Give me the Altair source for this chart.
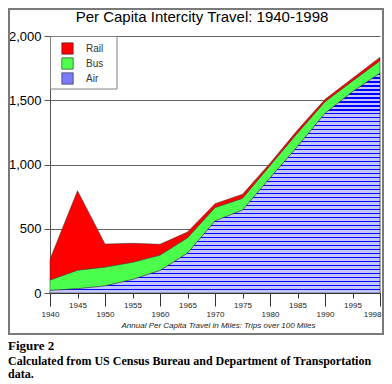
import altair as alt
import pandas as pd

years = [1940, 1945, 1950, 1955, 1960, 1965, 1970, 1975, 1980, 1985, 1990, 1995, 1998]
air = [20, 33, 55, 105, 175, 310, 560, 645, 895, 1140, 1398, 1567, 1710]
bus = [81, 145, 147, 135, 120, 120, 105, 92, 97, 105, 91, 83, 98]
rail = [161, 618, 179, 147, 84, 45, 30, 31, 18, 23, 18, 21, 26]
modes = ["Rail", "Bus", "Air"]
y_ticks = [0, 500, 1000, 1500, 2000]

rows = []
for i, yr in enumerate(years):
    rows.append({"Year": yr, "Mode": "Air", "Value": air[i], "ord": 0})
    rows.append({"Year": yr, "Mode": "Bus", "Value": bus[i], "ord": 1})
    rows.append({"Year": yr, "Mode": "Rail", "Value": rail[i], "ord": 2})
df = pd.DataFrame(rows)
df_air = pd.DataFrame({"Year": years, "Value": air})

xscale = alt.Scale(type="point", padding=0)
yscale = alt.Scale(domain=[0, 2000], nice=False)

odd = "datum.value % 10 == 5"
last = "datum.value == 1998"
xaxis = alt.Axis(
    labelAngle=0, labelFont="Arial", labelFontSize=8, labelColor="#222",
    tickSize={"condition": {"test": odd, "value": 5}, "value": 13},
    labelPadding={"condition": {"test": odd, "value": 3}, "value": 4},
    labelAlign={"condition": {"test": last, "value": "right"}, "value": "center"},
    labelOffset={"condition": {"test": last, "value": 1}, "value": 0},
    tickColor="#333", domainColor="#333", grid=False,
    title="Annual Per Capita Travel in Miles: Trips over 100 Miles",
    titleFont="Arial", titleFontSize=8, titleFontStyle="italic", titleFontWeight="normal",
    titleColor="#222", titleBaseline="alphabetic", titleY=34, titleX=168,
)
yaxis = alt.Axis(
    values=y_ticks, format=",d", labelFont="Arial", labelFontSize=13, labelColor="#000",
    tickSize=6, labelPadding=3, tickColor="#555", domainColor="#555",
    grid=True, gridColor="#666", gridWidth=1, title=None,
)

stacked = alt.Chart(df).mark_area(stroke="#333", strokeWidth=0.5).encode(
    x=alt.X("Year:O", scale=xscale, axis=xaxis),
    y=alt.Y("Value:Q", stack="zero", scale=yscale, axis=yaxis),
    color=alt.Color(
        "Mode:N",
        scale=alt.Scale(domain=modes, range=["#ff0000", "#4dff4d", "#7a7aff"]),
        legend=alt.Legend(
            title=None, orient="top-left", offset=0, padding=6,
            symbolType="square", symbolSize=130,
            symbolStrokeColor="#222", symbolStrokeWidth=0.6, symbolOffset=5,
            labelFont="Arial", labelFontSize=10, labelColor="#333", labelOffset=12,
            rowPadding=0,
        ),
    ),
    order=alt.Order("ord:Q"),
)

nrows = 55
hstops = []
for i in range(nrows):
    a = i / nrows
    b = (i + 0.32) / nrows
    c = (i + 1) / nrows
    hstops += [
        {"offset": a, "color": "#0000ff"}, {"offset": b, "color": "#0000ff"},
        {"offset": b, "color": "#c4c4ff"}, {"offset": c, "color": "#c4c4ff"},
    ]

air_h = alt.Chart(df_air).mark_area(
    fill={"gradient": "linear", "x1": 0, "y1": 0, "x2": 0, "y2": 1, "stops": hstops},
    stroke="#333", strokeWidth=0.5,
).encode(
    x=alt.X("Year:O", scale=xscale, axis=xaxis),
    y=alt.Y("Value:Q", scale=yscale, axis=yaxis, stack=None),
)

one = pd.DataFrame({"k": [0]})
frame = alt.Chart(one).mark_rect(fill=None, stroke="#7a7a7a", strokeWidth=2).encode(
    x=alt.value(-41), x2=alt.value(333), y=alt.value(-27), y2=alt.value(298)
)
legend_box = alt.Chart(one).mark_rect(fill="#ffffff", stroke="#808080", strokeWidth=1).encode(
    x=alt.value(0.5), x2=alt.value(67), y=alt.value(0.5), y2=alt.value(53)
)
cap1 = alt.Chart(one).mark_text(
    text="Figure 2", font="Liberation Serif", fontSize=13, fontWeight="bold",
    align="left", baseline="alphabetic", color="#000",
).encode(x=alt.value(-42), y=alt.value(314))
cap2 = alt.Chart(one).mark_text(
    text="Calculated from US Census Bureau and Department of Transportation",
    font="Liberation Serif", fontSize=12, fontWeight="bold",
    align="left", baseline="alphabetic", color="#000",
).encode(x=alt.value(-42), y=alt.value(329))
cap3 = alt.Chart(one).mark_text(
    text="data.", font="Liberation Serif", fontSize=12, fontWeight="bold",
    align="left", baseline="alphabetic", color="#000",
).encode(x=alt.value(-42), y=alt.value(342))

chart = alt.layer(frame, legend_box, stacked, air_h, cap1, cap2, cap3).properties(
    width=330, height=257,
    autosize=alt.AutoSizeParams(type="none"),
    padding={"left": 42, "top": 28, "right": 4, "bottom": 91},
    title=alt.TitleParams(
        "Per Capita Intercity Travel: 1940-1998", font="Arial", fontSize=15,
        fontWeight="normal", color="#000", anchor="middle", dx=-13, offset=0,
        baseline="alphabetic", dy=29,
    ),
).configure_view(stroke=None)

chart.save("out.html", embed_options={"renderer": "svg", "actions": False})
